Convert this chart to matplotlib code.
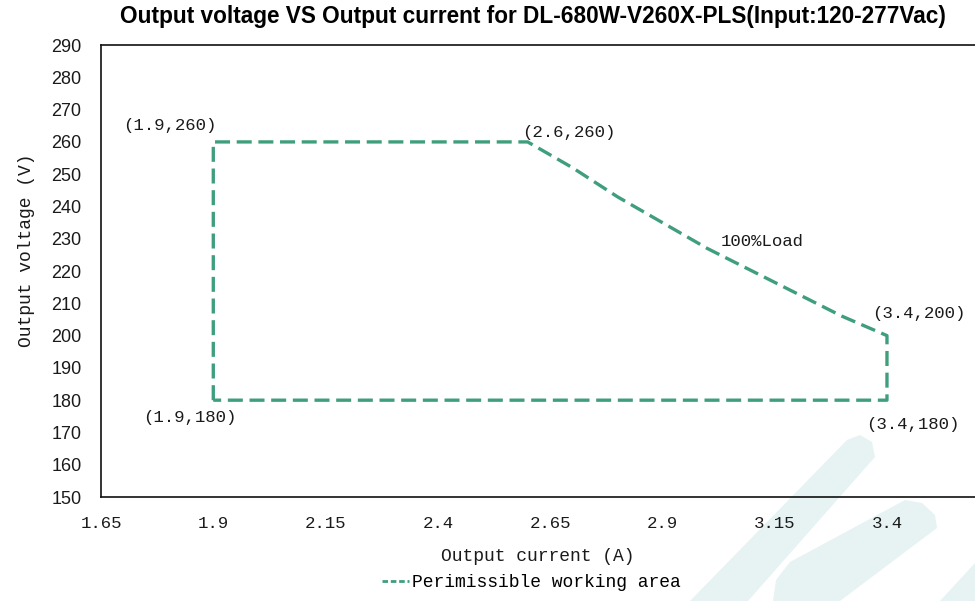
import matplotlib.pyplot as plt
from matplotlib.lines import Line2D
from matplotlib.patches import Polygon

# boundary of the working area (current A, voltage V)
current = [1.9, 1.9, 2.6, 2.7, 2.8, 2.9, 3.0, 3.1, 3.2, 3.3, 3.4, 3.4, 1.9]
voltage = [180, 260, 260, 252, 243, 235, 227, 220, 213, 206, 200, 180, 180]

corner_labels = ["(1.9,260)", "(2.6,260)", "(3.4,200)", "(3.4,180)", "(1.9,180)"]
corner_pos = [(1.699, 265.2), (2.588, 263.0), (3.367, 207.0), (3.354, 172.6), (1.744, 174.5)]

xticks = [1.65, 1.9, 2.15, 2.4, 2.65, 2.9, 3.15, 3.4]
yticks = list(range(150, 291, 10))

green = '#3f9f7c'
mono = ['Liberation Mono', 'DejaVu Sans Mono']
narrow = ['Liberation Sans Narrow', 'Liberation Sans', 'DejaVu Sans']

fig = plt.figure(figsize=(9.75, 6.01), dpi=100)

# faint logo watermark in the lower right corner (pixel coords of the image)
W, H = 975, 601
marks = [
    [(690, 601), (847, 440), (860, 435), (872, 442), (875, 457), (748, 601)],
    [(773, 601), (776, 580), (790, 562), (905, 500), (922, 503), (935, 515), (937, 528), (840, 601)],
    [(940, 601), (975, 563), (975, 601)],
]
for pts in marks:
    fig.add_artist(Polygon([(x / W, 1 - y / H) for x, y in pts], closed=True,
                           transform=fig.transFigure, fc='#e7f3f3', ec='none', zorder=0))

ax = fig.add_axes([0.1036, 0.173, 0.8964, 0.752])
ax.patch.set_alpha(0)

ax.plot(current, voltage, color=green, lw=2.4, ls=(0, (4.5, 2.0)),
        dash_capstyle='butt', solid_joinstyle='miter')

for txt, (x, y) in zip(corner_labels, corner_pos):
    ax.text(x, y, txt, family=mono, fontsize=12.5, ha='left', va='center', color='#1a1a1a')
ax.text(3.029, 229.3, "100%Load", family=mono, fontsize=12.5, ha='left', va='center', color='#1a1a1a')

ax.set_xlim(1.65, 3.596)
ax.set_ylim(150, 290)
ax.set_xticks(xticks)
ax.set_xticklabels([str(t) for t in xticks], family=mono, fontsize=12.5)
ax.set_yticks(yticks)
ax.set_yticklabels([str(t) for t in yticks], family=narrow, fontsize=13)
ax.tick_params(length=0, pad=14, colors='#1a1a1a')

for s in ['left', 'top', 'bottom']:
    ax.spines[s].set_linewidth(1.2)
    ax.spines[s].set_color('#111111')
ax.spines['right'].set_visible(False)

ax.set_xlabel("Output current (A)", family=mono, fontsize=13, labelpad=12, color='#1a1a1a')
ax.set_ylabel("Output voltage (V)", family=mono, fontsize=13, color='#1a1a1a')
ax.yaxis.set_label_coords(-0.076, 0.545)

fig.text(0.547, 0.973, "Output voltage VS Output current for DL-680W-V260X-PLS(Input:120-277Vac)",
         family=['Liberation Sans', 'DejaVu Sans'], fontweight='bold', fontsize=16.3,
         ha='center', va='center')

handle = Line2D([], [], color=green, lw=2.0, ls=(0, (2.0, 1.0)))
fig.legend([handle], ["Perimissible working area"], loc='center', bbox_to_anchor=(0.545, 0.03),
           frameon=False, prop={'family': mono, 'size': 13}, handlelength=1.5, handletextpad=0.2)

fig.savefig('out.png', dpi=100)
